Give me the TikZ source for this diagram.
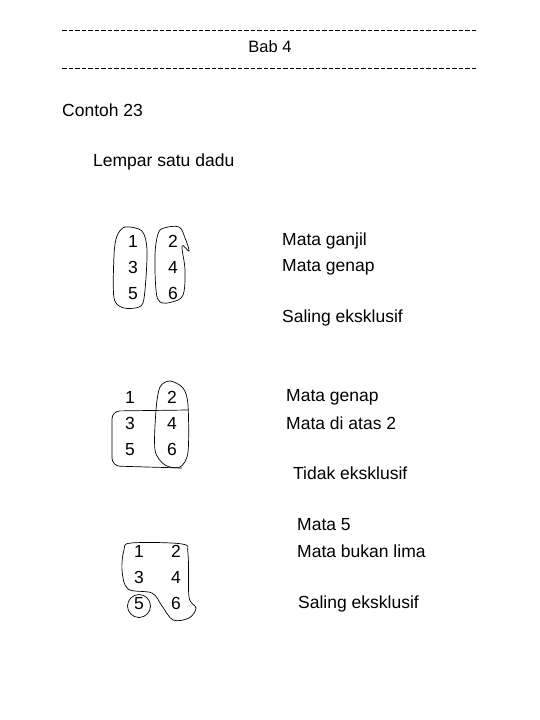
\documentclass[tikz,border=0pt]{standalone}
\usepackage{fontspec}
\setmainfont{Liberation Sans}
\usetikzlibrary{calc}
\tikzset{
  teks/.style={anchor=west,font=\fontsize{17.5}{20}\selectfont,inner sep=0pt},
  angka/.style={anchor=base,font=\fontsize{17.5}{20}\selectfont,inner sep=0pt},
  garis/.style={line width=0.9pt,dash pattern=on 4.5pt off 2pt},
  kurva/.style={line width=0.7pt}
}
\newcommand*{\dadu}[3]
  {\foreach \n/\dx/\dy in {1/0/0,2/1/0,3/0/1,4/1/1,5/0/2,6/1/2}
     \node[angka] (#1\n) at ($(#2)+(\dx*#3,\dy*26+6.2)$) {\n}}

\begin{document}
\begin{tikzpicture}[x=1pt,y=-1pt]
\useasboundingbox (0,0) rectangle (540,720);
% kepala halaman
\draw[garis] (62,30) -- (477,30);
\node[font=\fontsize{16.5}{19}\selectfont] (bab) at (270,47) {Bab 4};
\draw[garis] (62,68) -- (477,68);
\node[teks] (contoh) at (62,110) {Contoh 23};
\node[teks] (lempar) at (93,162) {Lempar satu dadu};

% pasangan pertama
\coordinate (p1) at (133,241);
\dadu{a}{p1}{40};
\draw[kurva] plot[smooth cycle] coordinates {(117,236) (125,227) (142,231) (147,250)
  (145,290) (141,306) (124,308) (114,298) (114,255)};
\draw[kurva] plot[smooth cycle,tension=0.6] coordinates {(158,234) (164,228) (179,227)
  (185,238) (189,251) (182,246) (185,270) (183,295) (172,302) (160,302) (156,290) (155,255)};
\node[teks] (ganjil) at (282,241) {Mata ganjil};
\node[teks] (genap) at (282,267) {Mata genap};
\node[teks] (saling) at (282,318) {Saling eksklusif};

% pasangan kedua
\coordinate (p2) at (130,397);
\dadu{b}{p2}{42};
\draw[kurva] plot[smooth cycle] coordinates {(160,387) (170,381) (183,388) (188,405)
  (188,452) (180,467) (165,465) (155,450) (156,410)};
\draw[kurva,rounded corners=8pt] (188,410) -- (112,411) -- (112,466) -- (182,468);
\node[teks] (genap2) at (286,397) {Mata genap};
\node[teks] (atas) at (286,423) {Mata di atas 2};
\node[teks] (tidak) at (293,473) {Tidak eksklusif};

% pasangan ketiga
\coordinate (p3) at (139,551);
\dadu{c}{p3}{37};
\draw[kurva] (139,606) circle (11.5);
\draw[kurva] plot[smooth cycle,tension=0.55] coordinates {(124,550) (131,543) (182,544)
  (188,554) (189,597) (196,608) (189,618) (173,620) (162,606) (152,593) (128,589) (122,570)};
\node[teks] (lima) at (297,525) {Mata 5};
\node[teks] (bukan) at (297,551) {Mata bukan lima};
\node[teks] (saling2) at (298,604) {Saling eksklusif};
\end{tikzpicture}
\end{document}
